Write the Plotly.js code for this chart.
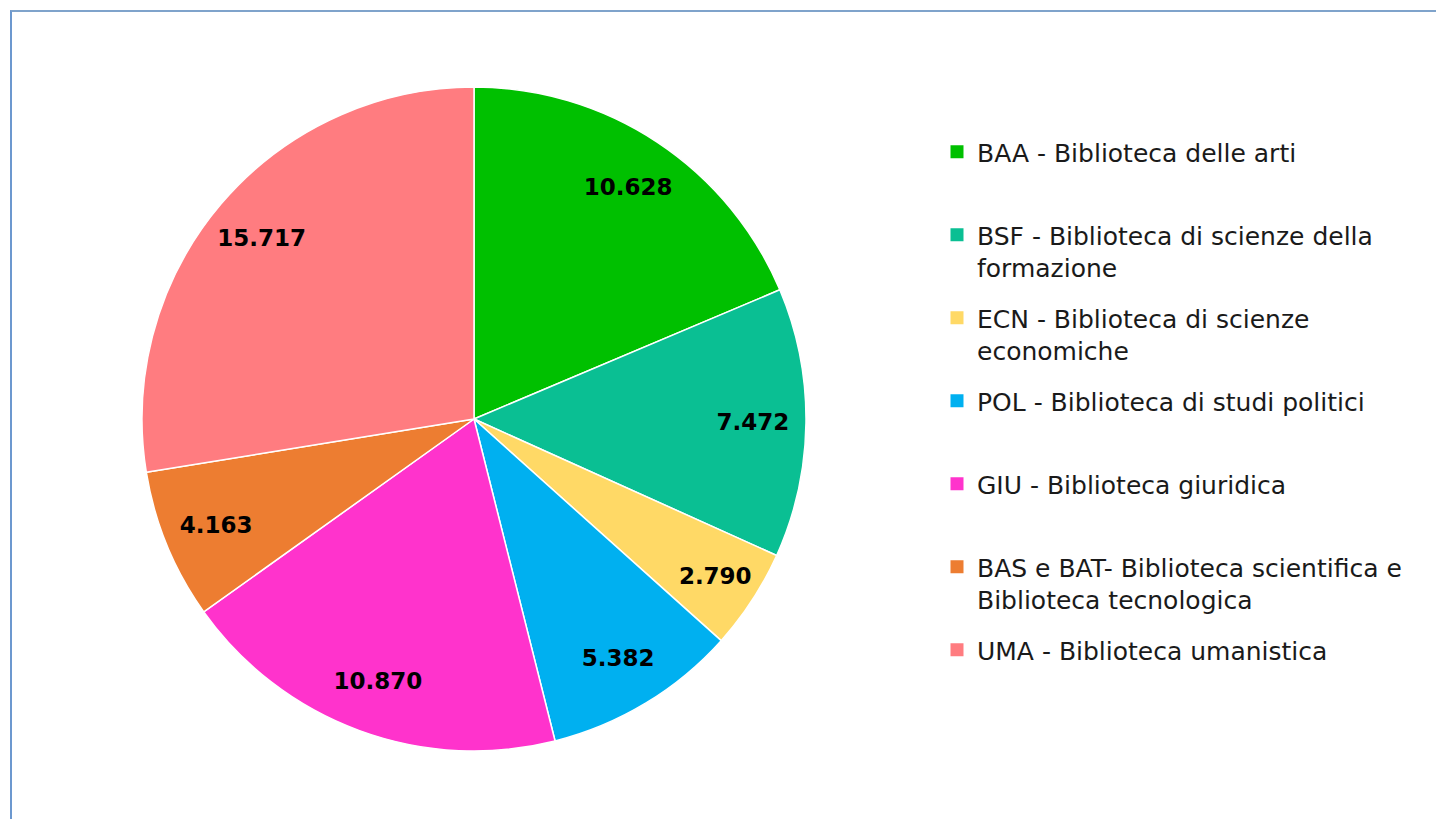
<!DOCTYPE html>
<html>
<head>
<meta charset="utf-8">
<script src="https://cdn.plot.ly/plotly-3.0.1.min.js"></script>
<style>
  html, body { margin: 0; padding: 0; background: #ffffff; }
  #chart { position: absolute; left: 0; top: 0; width: 1436px; height: 819px; }
  #frame { position: absolute; left: 10px; top: 10px; right: 0; bottom: 0;
           border-top: 2px solid #7FA3CB; border-left: 2px solid #6C98CF; pointer-events: none; }
</style>
</head>
<body>
<div id="chart"></div>
<div id="frame"></div>
<script>
// ---- data ----
const codes = ["BAA", "BSF", "ECN", "POL", "GIU", "BAS e BAT", "UMA"];
const legendLabels = [
  "BAA - Biblioteca delle arti<br>&nbsp;",
  "BSF - Biblioteca di scienze della<br>formazione",
  "ECN - Biblioteca di scienze<br>economiche",
  "POL - Biblioteca di studi politici<br>&nbsp;",
  "GIU - Biblioteca giuridica<br>&nbsp;",
  "BAS e BAT- Biblioteca scientifica e<br>Biblioteca tecnologica",
  "UMA - Biblioteca umanistica<br>&nbsp;"
];
const values = [10628, 7472, 2790, 5382, 10870, 4163, 15717];
const colors = ["#00C000", "#0ABF93", "#FFD966", "#00B0F0", "#FF33CC", "#ED7D31", "#FF7C80"];

const W = 1436, H = 819;
const pieDomain = { x: [142 / W, 806 / W], y: [68 / H, 732 / H] };

const traces = [];
// main pie (slices)
traces.push({
  type: "pie",
  labels: codes,
  values: values,
  sort: false,
  direction: "clockwise",
  rotation: 0,
  domain: pieDomain,
  marker: { colors: colors, line: { color: "#ffffff", width: 1.5 } },
  textinfo: "none",
  hoverinfo: "label+value",
  showlegend: false
});
// transparent ring carrying the value labels (places them toward the rim)
traces.push({
  type: "pie",
  labels: codes,
  values: values,
  sort: false,
  direction: "clockwise",
  rotation: 0,
  hole: 0.68,
  domain: pieDomain,
  marker: { colors: codes.map(() => "rgba(0,0,0,0)"), line: { width: 0 } },
  texttemplate: "%{value:,.0f}",
  textposition: "inside",
  insidetextorientation: "horizontal",
  textfont: { family: "DejaVu Sans", size: 23, color: "#000000", weight: "bold" },
  hoverinfo: "skip",
  showlegend: false
});
// legend entries (one group per slice so spacing can be set)
codes.forEach((c, i) => {
  traces.push({
    type: "scatter",
    mode: "markers",
    x: [null], y: [null],
    name: legendLabels[i],
    legendgroup: c,
    marker: { symbol: "square", size: 13, color: colors[i] },
    hoverinfo: "skip",
    showlegend: true
  });
});

const layout = {
  width: W, height: H,
  margin: { l: 0, r: 0, t: 0, b: 0 },
  paper_bgcolor: "#ffffff",
  plot_bgcolor: "rgba(0,0,0,0)",
  separators: ",.",
  font: { family: "DejaVu Sans", color: "#1a1a1a" },
  xaxis: { visible: false },
  yaxis: { visible: false },
  showlegend: true,
  legend: {
    x: 937 / W, xanchor: "left",
    y: 1 - 129 / H, yanchor: "top",
    font: { family: "DejaVu Sans", size: 25, color: "#1a1a1a" },
    valign: "top",
    tracegroupgap: 15,
    itemwidth: 30,
    bgcolor: "rgba(0,0,0,0)",
    borderwidth: 0
  }
};

Plotly.newPlot("chart", traces, layout, { displayModeBar: false, staticPlot: true });
</script>
</body>
</html>
